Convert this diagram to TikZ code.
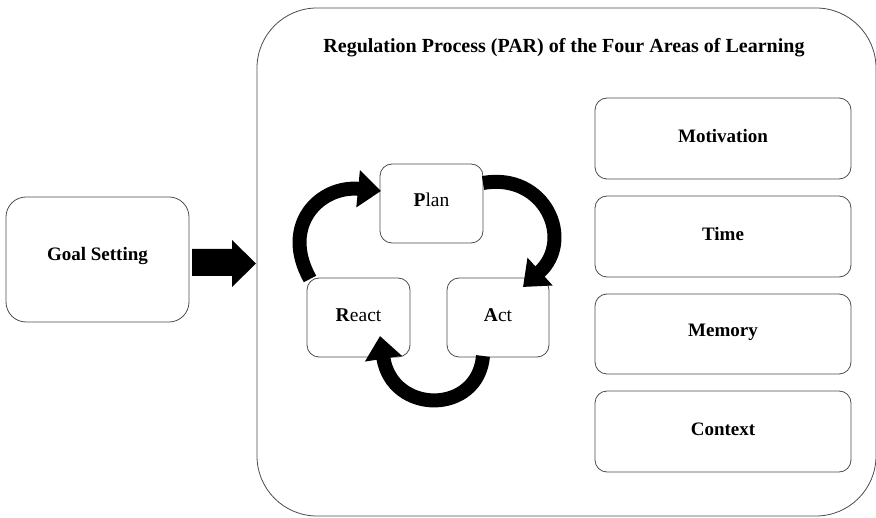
\documentclass[tikz,border=0pt]{standalone}
\usepackage{fontspec}
\setmainfont{Liberation Serif}
\usetikzlibrary{arrows.meta}
\begin{document}
\begin{tikzpicture}[x=1pt,y=-1pt,
  box/.style={draw=black!70,line width=0.8pt,rounded corners=#1},
  lbl/.style={font=\bfseries\fontsize{19}{22}\selectfont},
  cyc/.style={font=\fontsize{19.5}{22}\selectfont},
  curv/.style={line width=14pt,-{Triangle[width=36pt,length=23pt]}},
]
\useasboundingbox (0,0) rectangle (876,518);
% outer
\draw[box=60] (257,8) rectangle (876,516);
\node[font=\bfseries\fontsize{20}{24}\selectfont] (title) at (564,48) {Regulation Process (PAR) of the Four Areas of Learning};
% goal
\draw[box=20] (6,197) rectangle (189,322);
\node[lbl] (goal) at (97.5,256) {Goal Setting};
% block arrow
\fill (192,249) -- (232,249) -- (232,240) -- (256,263.5) -- (232,287) -- (232,276) -- (192,276) -- cycle;
% right boxes
\draw[box=12] (595,98) rectangle (851,179);
\node[lbl] (mot) at (723,136) {Motivation};
\draw[box=12] (595,196) rectangle (851,277);
\node[lbl] (time) at (723,234) {Time};
\draw[box=12] (595,294) rectangle (851,374);
\node[lbl] (mem) at (723,332) {Memory};
\draw[box=12] (595,391) rectangle (851,472);
\node[lbl] (ctx) at (723,429) {Context};
% cycle boxes
\draw[box=12] (380,164) rectangle (483,243);
\node[cyc] (plan) at (431.5,200) {\textbf{P}lan};
\draw[box=12] (307,278) rectangle (410,357);
\node[cyc] (react) at (358.5,315) {\textbf{R}eact};
\draw[box=12] (447,278) rectangle (549,357);
\node[cyc] (act) at (498,315) {\textbf{A}ct};
% curved arrows
\draw[curv] (310,279) .. controls (280,225) and (320,185) .. (381,191);
\draw[curv] (483,183) .. controls (545,172) and (575,240) .. (523,287);
\draw[curv] (483,356) .. controls (478,415) and (392,415) .. (380,336);
\end{tikzpicture}
\end{document}
